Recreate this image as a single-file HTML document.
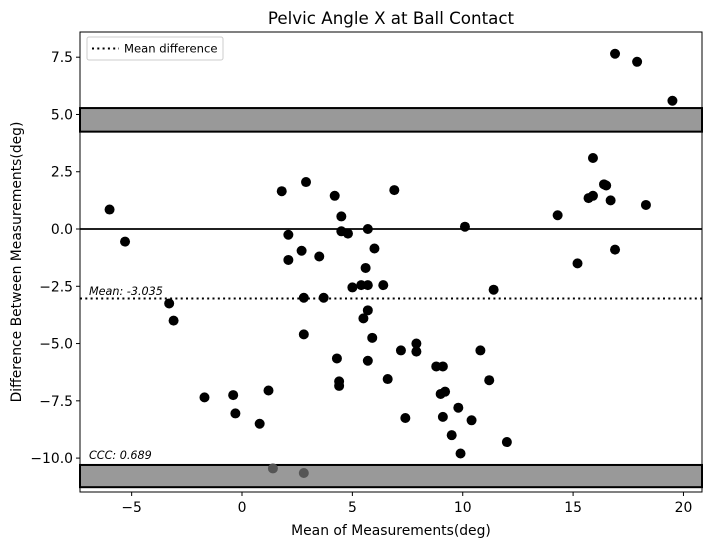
<!DOCTYPE html>
<html><head><meta charset="utf-8"><style>body{margin:0;background:#fff}svg{font-family:"DejaVu Sans","Liberation Sans",sans-serif}</style></head>
<body>
<svg id="c" width="711" height="547"></svg>
<script>
const xs=[-6.0,-5.3,-3.3,-3.1,-1.7,-0.4,-0.3,0.8,1.2,1.8,2.1,2.1,2.7,2.8,2.8,2.9,3.5,3.7,4.2,4.3,4.4,4.4,4.5,4.5,4.8,5.0,5.4,5.5,5.6,5.7,5.7,5.7,5.7,5.9,6.0,6.4,6.6,6.9,7.2,7.4,7.9,7.9,8.8,9.0,9.1,9.1,9.2,9.5,9.8,9.9,10.1,10.4,10.8,11.2,11.4,12.0,14.3,15.2,15.7,15.9,15.9,16.4,16.5,16.7,16.9,16.9,17.9,18.3,19.5];
const ys=[0.85,-0.55,-3.25,-4.0,-7.35,-7.25,-8.05,-8.5,-7.05,1.65,-0.25,-1.35,-0.95,-4.6,-3.0,2.05,-1.2,-3.0,1.45,-5.65,-6.65,-6.85,-0.1,0.55,-0.2,-2.55,-2.45,-3.9,-1.7,-2.45,0.0,-3.55,-5.75,-4.75,-0.85,-2.45,-6.55,1.7,-5.3,-8.25,-5.0,-5.35,-6.0,-7.2,-6.0,-8.2,-7.1,-9.0,-7.8,-9.8,0.1,-8.35,-5.3,-6.6,-2.65,-9.3,0.6,-1.5,1.35,1.45,3.1,1.95,1.9,1.25,7.65,-0.9,7.3,1.05,5.6];
const grayXs=[1.4,2.8];
const grayYs=[-10.45,-10.65];
const xTicks=[-5,0,5,10,15,20];
const yTicks=[-10,-7.5,-5,-2.5,0,2.5,5,7.5];
const meanDiff=-3.035, upperBand=[4.25,5.28], lowerBand=[-11.27,-10.3];
const L=80,R=702,T=32,B=492,x0=-7.34,x1=20.84,y0=-11.48,y1=8.6;
const X=v=>L+(v-x0)/(x1-x0)*(R-L), Y=v=>B-(v-y0)/(y1-y0)*(B-T);
const s=document.getElementById('c'),NS='http://www.w3.org/2000/svg';
function mk(t,a,p){const e=document.createElementNS(NS,t);for(const k in a)e.setAttribute(k,a[k]);(p||s).appendChild(e);return e;}
function band(b,n){const e=mk('rect',{x:L,y:Y(b[1]),width:R-L,height:Y(b[0])-Y(b[1]),fill:'#999',stroke:'#000','stroke-width':2});

}
band(upperBand,'upper-limit-band');band(lowerBand,'lower-limit-band');
let z=mk('line',{x1:L,x2:R,y1:Y(0),y2:Y(0),stroke:'#000','stroke-width':1.8});


let m=mk('line',{x1:L,x2:R,y1:Y(meanDiff),y2:Y(meanDiff),stroke:'#000','stroke-width':2,'stroke-dasharray':'2,3.3'});


xs.forEach((v,i)=>{const c=mk('circle',{cx:X(v),cy:Y(ys[i]),r:5,fill:'#000'});

});
grayXs.forEach((v,i)=>{const c=mk('circle',{cx:X(v),cy:Y(grayYs[i]),r:5,fill:'#555'});

});
let fr=mk('rect',{x:L,y:T,width:R-L,height:B-T,fill:'none',stroke:'#000','stroke-width':1});


xTicks.forEach(v=>{mk('line',{x1:X(v),x2:X(v),y1:B,y2:B+4,stroke:'#000'});
const t=mk('text',{x:X(v),y:B+20,'text-anchor':'middle','font-size':13.9});t.textContent=v<0?'−'+(-v):v;

});
yTicks.forEach(v=>{mk('line',{x1:L-4,x2:L,y1:Y(v),y2:Y(v),stroke:'#000'});
const t=mk('text',{x:L-7,y:Y(v)+5,'text-anchor':'end','font-size':13.9});t.textContent=(v<0?'−':'')+Math.abs(v).toFixed(1);

});
</script>
<svg width="711" height="547" style="position:absolute;left:0;top:0">
<text x="391" y="24" text-anchor="middle" font-size="16.7">Pelvic Angle X at Ball Contact</text>
<text x="391" y="535" text-anchor="middle" font-size="13.9">Mean of Measurements(deg)</text>
<text transform="translate(21,262) rotate(-90)" text-anchor="middle" font-size="13.9">Difference Between Measurements(deg)</text>
<text x="89" y="295" font-size="11.2" font-style="italic">Mean: -3.035</text>
<text x="89" y="459" font-size="11.2" font-style="italic">CCC: 0.689</text>
<g>
<rect x="87" y="37" width="136" height="23" rx="2" fill="#fff" stroke="#ccc"/>
<line x1="92" y1="48.5" x2="119" y2="48.5" stroke="#000" stroke-width="2" stroke-dasharray="2,3.3"/>
<text x="124" y="52.5" font-size="11.6">Mean difference</text>
</g>
</svg>
</body></html>
